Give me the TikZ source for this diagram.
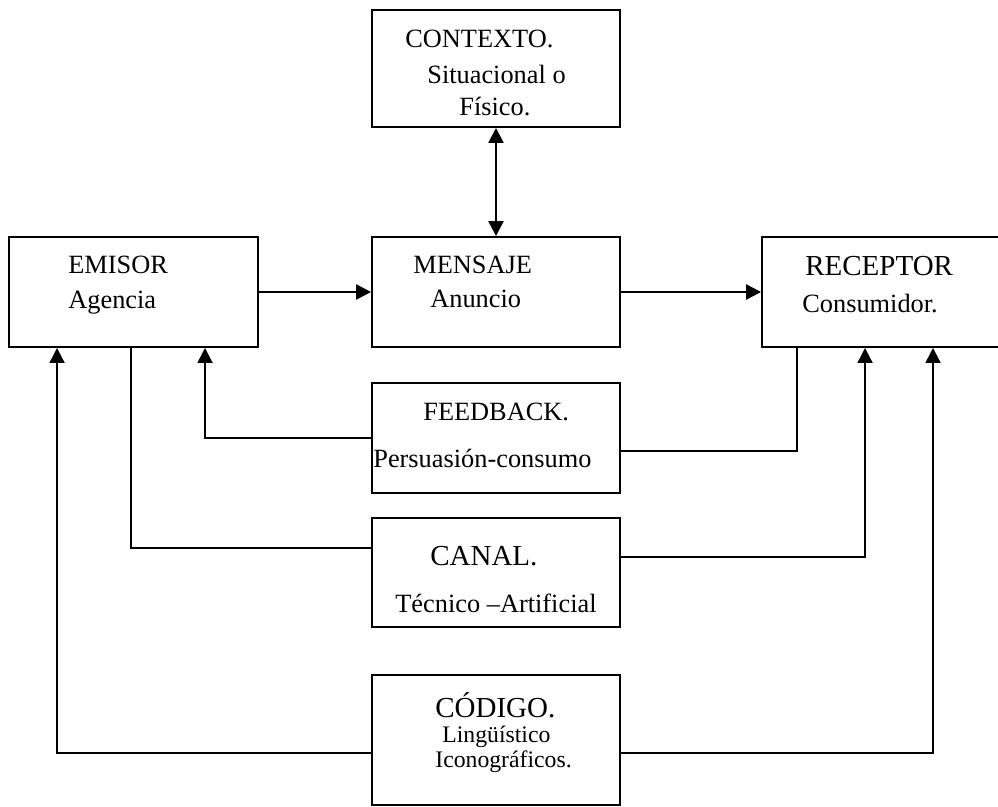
\documentclass[tikz,border=0pt]{standalone}
\usepackage{fontspec}
\setmainfont{Liberation Serif}
\usetikzlibrary{arrows.meta}

\begin{document}
\begin{tikzpicture}[x=0.02cm,y=-0.02cm,>={Triangle[length=0.3cm,width=0.3cm]},
  box node/.style={rectangle,draw,line width=1.1pt,minimum width=4.96cm,minimum height=2.2cm,inner sep=0pt},
  txt node/.style={anchor=base west,inner sep=0pt,font=\fontsize{15}{18}\selectfont},
  big txt/.style={txt node,font=\fontsize{16.5}{19}\selectfont},
  small txt/.style={txt node,font=\fontsize{13.5}{16}\selectfont},
  link/.style={line width=1pt},
  arrow link/.style={->,line width=1.4pt}]

  \useasboundingbox (0,0) rectangle (998,806);
  \clip (0,0) rectangle (998,806);

  % cajas
  \node[box node,minimum height=2.34cm] (contexto) at (496,68.5) {};
  \node[box node,minimum width=4.98cm] (emisor) at (133.5,292) {};
  \node[box node] (mensaje) at (496,292) {};
  \node[box node,minimum width=4.98cm] (receptor) at (886.5,292) {};
  \node[box node] (feedback) at (496,438) {};
  \node[box node,minimum height=2.18cm] (canal) at (496,572.5) {};
  \node[box node,minimum height=2.6cm] (codigo) at (496,740) {};

  % textos
  \node[txt node] (ctx1) at (405,47) {CONTEXTO.};
  \node[txt node] (ctx2) at (427,83) {Situacional o};
  \node[txt node] (ctx3) at (459,115) {Físico.};
  \node[txt node] (emi1) at (68,273) {EMISOR};
  \node[txt node] (emi2) at (68,308) {Agencia};
  \node[txt node] (men1) at (413,273) {MENSAJE};
  \node[txt node] (men2) at (430,307) {Anuncio};
  \node[big txt] (rec1) at (805,275) {RECEPTOR};
  \node[txt node] (rec2) at (802,312) {Consumidor.};
  \node[txt node] (fee1) at (423,420) {FEEDBACK.};
  \node[txt node] (fee2) at (373,467) {Persuasión-consumo};
  \node[big txt] (can1) at (430,565) {CANAL.};
  \node[txt node] (can2) at (395,612) {Técnico –Artificial};
  \node[big txt] (cod1) at (435,717) {CÓDIGO.};
  \node[small txt] (cod2) at (442,742) {Lingüístico};
  \node[small txt] (cod3) at (435,767) {Iconográficos.};

  % puntos de llegada
  \coordinate (e1) at ([xshift=0.98cm]emisor.south west);
  \coordinate (e2) at ([xshift=2.46cm]emisor.south west);
  \coordinate (e3) at ([xshift=3.94cm]emisor.south west);
  \coordinate (r1) at ([xshift=0.72cm]receptor.south west);
  \coordinate (r2) at ([xshift=2.08cm]receptor.south west);
  \coordinate (r3) at ([xshift=3.44cm]receptor.south west);

  \draw[arrow link,<->] (contexto) -- (mensaje);
  \draw[arrow link] (emisor) -- (mensaje);
  \draw[arrow link] (mensaje) -- (receptor);
  \draw[link,->] (feedback.west) -| (e3);
  \draw[link] (r1) |- ([yshift=-0.26cm]feedback.east);
  \draw[link] (e2) |- ([yshift=0.49cm]canal.west);
  \draw[link,->] ([yshift=0.31cm]canal.east) -| (r2);
  \draw[link,->] ([yshift=-0.26cm]codigo.west) -| (e1);
  \draw[link,->] ([yshift=-0.26cm]codigo.east) -| (r3);

\end{tikzpicture}
\end{document}
